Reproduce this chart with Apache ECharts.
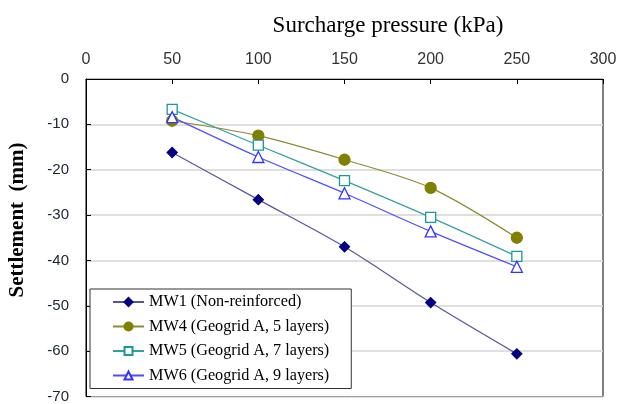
<!DOCTYPE html>
<html>
<head>
<meta charset="utf-8">
<script src="https://cdn.jsdelivr.net/npm/echarts@6/dist/echarts.min.js"></script>
<style>
  html, body { margin: 0; padding: 0; background: #fff; }
  #chart { width: 624px; height: 404px; }
</style>
</head>
<body>
<div id="chart"></div>
<script>
// Surcharge pressure steps (kPa)
const pressure = [50, 100, 150, 200, 250];

// Settlement (mm) for each model wall
const mw1 = [-16.2, -26.6, -37.0, -49.3, -60.6];
const mw4 = [-9.2, -12.5, -17.8, -24.0, -35.0];
const mw5 = [-6.7, -14.6, -22.4, -30.5, -39.1];
const mw6 = [-8.4, -17.2, -25.2, -33.6, -41.4];

const names = [
  'MW1 (Non-reinforced)',
  'MW4 (Geogrid A, 5 layers)',
  'MW5 (Geogrid A, 7 layers)',
  'MW6 (Geogrid A, 9 layers)'
];

const pair = arr => pressure.map((p, i) => [p, arr[i]]);

const serifFont = '"Liberation Serif", "DejaVu Serif", serif';
const tickFont = '"Liberation Sans Narrow", "Liberation Sans", Arial, sans-serif';

function lineSeries(name, data, color, lineColor, symbol, size, fill) {
  return {
    name: name,
    type: 'line',
    data: pair(data),
    smooth: 0.3,
    symbol: symbol,
    symbolSize: size,
    showAllSymbol: true,
    lineStyle: { color: lineColor, width: 1.2 },
    itemStyle: { color: fill, borderColor: color, borderWidth: 1.3 },
    emphasis: { disabled: true },
    z: 3
  };
}

const chart = echarts.init(document.getElementById('chart'), null, { renderer: 'canvas' });
chart.setOption({
  animation: false,
  backgroundColor: '#fff',
  grid: {
    left: 86, right: 21, top: 79, bottom: 7,
    show: true, borderColor: '#000', borderWidth: 1, backgroundColor: 'transparent'
  },
  title: {
    text: 'Surcharge pressure (kPa)',
    left: 383, top: 9, textAlign: 'center',
    textStyle: { fontFamily: serifFont, fontSize: 23, fontWeight: 'normal', color: '#000' }
  },
  graphic: [{
    type: 'text',
    x: 18, y: 220,
    rotation: Math.PI / 2,
    style: {
      text: 'Settlement  (mm)',
      font: 'bold 21px "Liberation Serif", serif',
      fill: '#000',
      align: 'center',
      verticalAlign: 'middle'
    }
  }],
  legend: {
    orient: 'vertical',
    left: 90, top: 289,
    padding: [5, 22, 5, 22],
    itemGap: 8.5,
    itemWidth: 31, itemHeight: 10,
    backgroundColor: '#fff',
    borderColor: '#333', borderWidth: 1,
    textStyle: { fontFamily: serifFont, fontSize: 16.2, color: '#000' },
    data: names
  },
  xAxis: {
    type: 'value', position: 'top',
    min: 0, max: 300, interval: 50,
    axisLine: { show: true, lineStyle: { color: '#000', width: 1 } },
    axisTick: { show: true, inside: true, length: 5, lineStyle: { color: '#000' } },
    axisLabel: { fontFamily: tickFont, fontSize: 16, color: '#333', margin: 11 },
    splitLine: { show: false }
  },
  yAxis: {
    type: 'value',
    min: -70, max: 0, interval: 10,
    axisLine: { show: true, lineStyle: { color: '#000', width: 1 } },
    axisTick: { show: true, inside: true, length: 5, lineStyle: { color: '#000' } },
    axisLabel: { fontFamily: tickFont, fontSize: 15, color: '#1c2333', margin: 17 },
    splitLine: { show: true, lineStyle: { color: '#d4d4d4', width: 1.5 } }
  },
  series: [
    lineSeries(names[0], mw1, '#000080', '#55559a', 'diamond', 10, '#000080'),
    lineSeries(names[1], mw4, '#808000', '#8c8c30', 'circle', 11, '#808000'),
    lineSeries(names[2], mw5, '#1a9999', '#33a0a0', 'rect', 10, '#fff'),
    lineSeries(names[3], mw6, '#3333ff', '#4d4dff', 'triangle', 11, '#fff')
  ]
});
</script>
</body>
</html>
